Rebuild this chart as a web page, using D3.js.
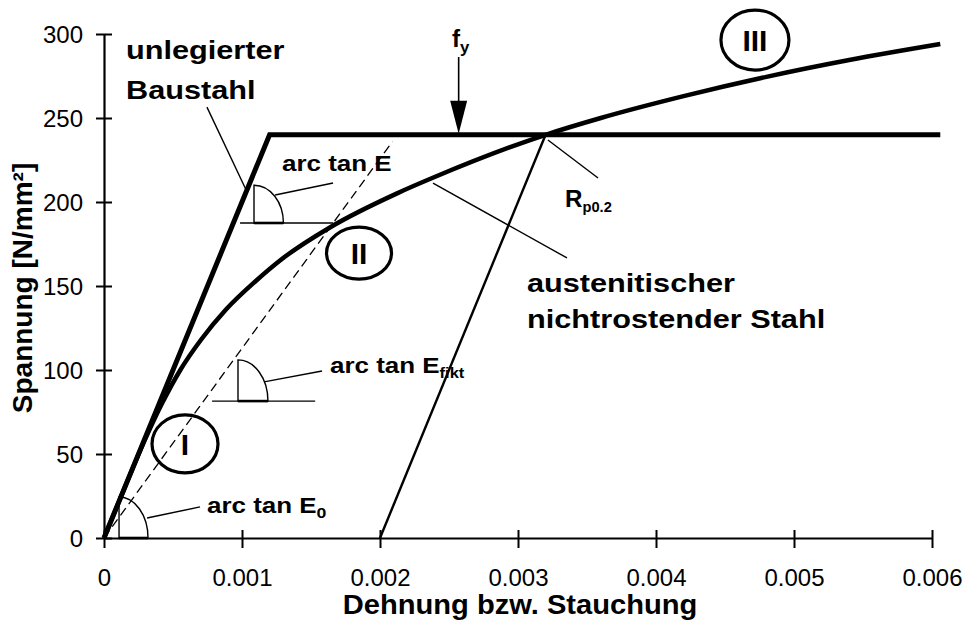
<!DOCTYPE html>
<html>
<head>
<meta charset="utf-8">
<script src="https://cdn.jsdelivr.net/npm/d3@7"></script>
<style>
  body { margin: 0; background: #fff; }
  svg { display: block; }
  text { font-family: "Liberation Sans", Arial, Helvetica, sans-serif; fill: #000; }
</style>
</head>
<body>
<svg id="chart" width="967" height="623"></svg>
<script>
// Axis ticks
const xTicks = [0, 0.001, 0.002, 0.003, 0.004, 0.005, 0.006];
const xTickLabels = ["0", "0.001", "0.002", "0.003", "0.004", "0.005", "0.006"];
const yTicks = [0, 50, 100, 150, 200, 250, 300];

// Unalloyed structural steel: linear elastic, ideal plastic at f_y
const baustahlStrain = [0, 0.0012, 0.00606];
const baustahlStress = [0, 240, 240];

// Austenitic stainless steel: non-linear stress-strain curve
const edelstahlStrain = [0, 0.00015, 0.000305, 0.00042, 0.000553, 0.000703, 0.000884, 0.0011, 0.00128, 0.00164, 0.00212, 0.0024, 0.0032, 0.0036, 0.0042, 0.0048, 0.0054, 0.00606];
const edelstahlStress = [0, 30, 60, 80, 100, 118, 136, 153, 165.5, 185, 205, 215, 240, 250, 263, 274.5, 284.5, 294];

// 0.2 % offset line through R_p0.2
const offsetStrain = [0.002, 0.0032];
const offsetStress = [0, 240];

// Secant (fictitious modulus) line from the origin
const secantStrain = [0, 0.00209];
const secantStress = [0, 236];

const svg = d3.select("#chart");
const x = d3.scaleLinear().domain([0, 0.006]).range([104, 932]);
const y = d3.scaleLinear().domain([0, 300]).range([538, 34]);

const line = d3.line().x(d => x(d[0])).y(d => y(d[1]));
const smooth = d3.line().x(d => x(d[0])).y(d => y(d[1])).curve(d3.curveMonotoneX);
const zip = (a, b) => a.map((v, i) => [v, b[i]]);

// ---- axes ----
const yAxis = svg.append("g")
  .attr("transform", `translate(${x(0)},0)`)
  .call(d3.axisLeft(y).tickValues(yTicks).tickSizeOuter(0).tickSizeInner(8));
yAxis.select(".domain").attr("stroke", "#000").attr("stroke-width", 2.2);
yAxis.selectAll(".tick line").attr("x1", -8).attr("x2", 8).attr("stroke", "#000").attr("stroke-width", 2);
yAxis.selectAll(".tick text").attr("x", -21).attr("dy", "0.35em")
  .style("font-size", "24px").style("font-family", "Liberation Sans, Arial, sans-serif");

const xAxis = svg.append("g")
  .attr("transform", `translate(0,${y(0)})`)
  .call(d3.axisBottom(x).tickValues(xTicks).tickFormat((d, i) => xTickLabels[i]).tickSizeOuter(0).tickSizeInner(8));
xAxis.select(".domain").attr("stroke", "#000").attr("stroke-width", 2.2);
xAxis.selectAll(".tick line").attr("y1", -8).attr("y2", 10).attr("stroke", "#000").attr("stroke-width", 2);
xAxis.selectAll(".tick text").attr("y", 48).attr("dy", 0)
  .style("font-size", "24px").style("font-family", "Liberation Sans, Arial, sans-serif");

// stretched bold text helper
function label(px, py, str, size, sx, anchor) {
  const t = svg.append("text")
    .attr("transform", `translate(${px},${py}) scale(${sx},1)`)
    .attr("text-anchor", anchor || "start")
    .style("font-size", size + "px")
    .style("font-weight", "bold");
  if (Array.isArray(str)) {
    str.forEach(part => {
      const ts = t.append("tspan").text(part.t);
      if (part.sub) ts.style("font-size", part.sub + "px").attr("dy", part.dy);
      else if (part.dy) ts.attr("dy", part.dy);
    });
  } else t.text(str);
  return t;
}

// axis titles
label(520, 614, "Dehnung bzw. Stauchung", 28, 1.04, "middle");
svg.append("text")
  .attr("transform", `translate(32,288) rotate(-90)`)
  .attr("text-anchor", "middle")
  .style("font-size", "28px").style("font-weight", "bold")
  .text("Spannung [N/mm²]");

// ---- marks ----
// secant line (dashed)
svg.append("path").datum(zip(secantStrain, secantStress))
  .attr("d", line).attr("fill", "none").attr("stroke", "#000")
  .attr("stroke-width", 1.3).attr("stroke-dasharray", "9,5");

// offset line
svg.append("path").datum(zip(offsetStrain, offsetStress))
  .attr("d", line).attr("fill", "none").attr("stroke", "#000").attr("stroke-width", 2.4);

// stainless steel curve
svg.append("path").datum(zip(edelstahlStrain, edelstahlStress))
  .attr("d", smooth).attr("fill", "none").attr("stroke", "#000").attr("stroke-width", 4.5)
  .attr("stroke-linejoin", "round");

// structural steel
svg.append("path").datum(zip(baustahlStrain, baustahlStress))
  .attr("d", line).attr("fill", "none").attr("stroke", "#000").attr("stroke-width", 5)
  .attr("stroke-linejoin", "miter");

// ---- thin annotation lines ----
function seg(e1, s1, e2, s2, w) {
  svg.append("line")
    .attr("x1", x(e1)).attr("y1", y(s1)).attr("x2", x(e2)).attr("y2", y(s2))
    .attr("stroke", "#000").attr("stroke-width", w || 1.4);
}
// angle symbol: vertical stroke plus quarter ellipse
function angleMark(eCorner, sCorner, sTop, eRight) {
  const cx = x(eCorner), cy = y(sCorner), ty = y(sTop), rx = x(eRight) - cx, ry = cy - ty;
  svg.append("path")
    .attr("d", `M${cx},${cy} L${cx},${ty} A${rx},${ry} 0 0 1 ${cx + rx},${cy} Z`)
    .attr("fill", "none").attr("stroke", "#000").attr("stroke-width", 1.4);
  svg.append("line").attr("x1", cx).attr("y1", cy).attr("x2", cx + rx).attr("y2", cy)
    .attr("stroke", "#000").attr("stroke-width", 2.6);
}

// arc tan E0 at the origin
angleMark(0.000109, 0, 24.4, 0.000319);
seg(0.000312, 11.9, 0.000696, 18.5);
// arc tan E_fikt
seg(0.000783, 81.5, 0.00153, 81.5);
angleMark(0.000971, 81.5, 106, 0.001188);
seg(0.00116, 92.9, 0.00158, 99.4);
// arc tan E
seg(0.000986, 187.5, 0.00166, 187.5);
angleMark(0.001087, 187.5, 210, 0.0013);
seg(0.00124, 204.2, 0.00166, 211.3);
// leaders
seg(0.000746, 256.5, 0.00103, 207.1);     // unlegierter Baustahl
seg(0.003217, 236.9, 0.00358, 214.3);     // R_p0.2
seg(0.002384, 211.3, 0.003355, 166.7);    // austenitischer Stahl

// f_y arrow
const fyE = 0.00257;
svg.append("line").attr("x1", x(fyE)).attr("y1", 57).attr("x2", x(fyE)).attr("y2", y(240) - 30)
  .attr("stroke", "#000").attr("stroke-width", 1.6);
svg.append("path")
  .attr("d", `M${x(fyE) - 8.5},${y(240) - 34} L${x(fyE) + 8.5},${y(240) - 34} L${x(fyE)},${y(240) - 1} Z`)
  .attr("fill", "#000");

// region markers I, II, III
const regions = [
  { n: "I", e: 0.000587, s: 56, rx: 33, ry: 29 },
  { n: "II", e: 0.001848, s: 169.6, rx: 32.5, ry: 26 },
  { n: "III", e: 0.004717, s: 296.4, rx: 34, ry: 30 }
];
regions.forEach(r => {
  svg.append("ellipse").attr("cx", x(r.e)).attr("cy", y(r.s)).attr("rx", r.rx).attr("ry", r.ry)
    .attr("fill", "none").attr("stroke", "#000").attr("stroke-width", 3.2);
  svg.append("text").attr("x", x(r.e)).attr("y", y(r.s) + 11).attr("text-anchor", "middle")
    .style("font-size", "30px").style("font-weight", "bold").text(r.n);
});

// ---- text labels ----
label(126, 59, "unlegierter", 26, 1.18);
label(126, 99, "Baustahl", 26, 1.18);
label(527, 292, "austenitischer", 26, 1.18);
label(527, 328, "nichtrostender Stahl", 26, 1.18);
label(282, 171, "arc tan E", 22, 1.18);
label(330, 373, [{ t: "arc tan E" }, { t: "fikt", sub: 14, dy: 5 }], 22, 1.18);
label(207, 513, [{ t: "arc tan E" }, { t: "0", sub: 15, dy: 5 }], 22, 1.18);
label(565, 207, [{ t: "R" }, { t: "p0.2", sub: 14, dy: 5 }], 23, 1.05);
label(452, 47, [{ t: "f" }, { t: "y", sub: 16, dy: 6 }], 23, 1.05);
</script>
</body>
</html>
